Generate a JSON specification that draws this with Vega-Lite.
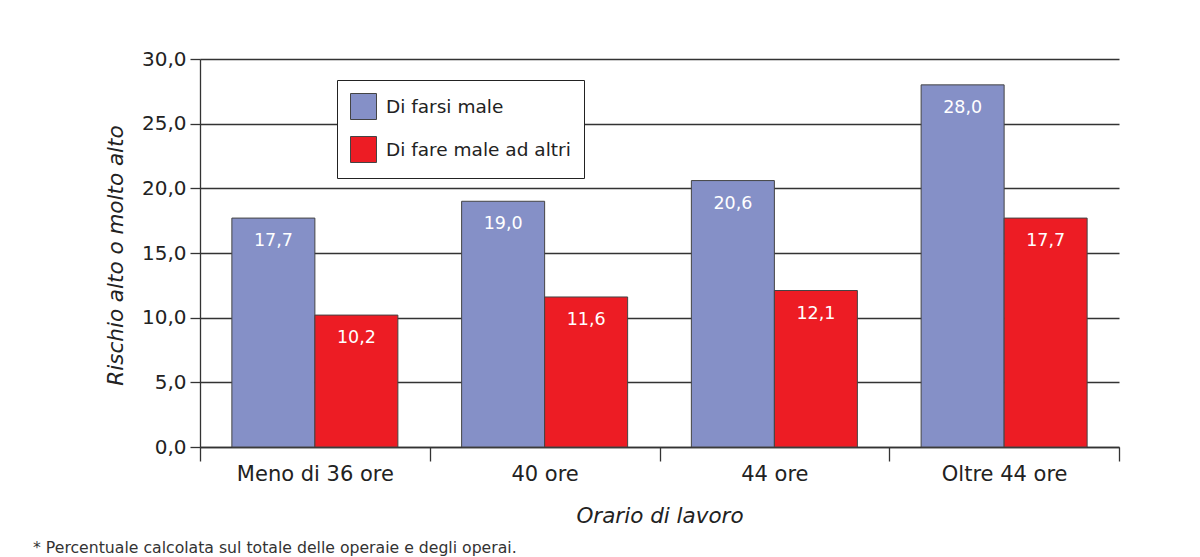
{
  "$schema": "https://vega.github.io/schema/vega-lite/v6.json",
  "width": 919,
  "height": 388,
  "autosize": {"type": "none"},
  "padding": {"left": 200, "top": 59, "right": 81, "bottom": 110},
  "background": "white",
  "title": {
    "text": "* Percentuale calcolata sul totale delle operaie e degli operai.",
    "orient": "bottom",
    "anchor": "start",
    "frame": "group",
    "dx": -167,
    "offset": 14,
    "font": "DejaVu Sans",
    "fontSize": 15.7,
    "fontWeight": "normal",
    "color": "#333333"
  },
  "data": {
    "values": [
      {"orario": "Meno di 36 ore", "serie": "Di farsi male", "valore": 17.7},
      {"orario": "Meno di 36 ore", "serie": "Di fare male ad altri", "valore": 10.2},
      {"orario": "40 ore", "serie": "Di farsi male", "valore": 19.0},
      {"orario": "40 ore", "serie": "Di fare male ad altri", "valore": 11.6},
      {"orario": "44 ore", "serie": "Di farsi male", "valore": 20.6},
      {"orario": "44 ore", "serie": "Di fare male ad altri", "valore": 12.1},
      {"orario": "Oltre 44 ore", "serie": "Di farsi male", "valore": 28.0},
      {"orario": "Oltre 44 ore", "serie": "Di fare male ad altri", "valore": 17.7}
    ]
  },
  "encoding": {
    "x": {
      "field": "orario",
      "type": "nominal",
      "sort": ["Meno di 36 ore", "40 ore", "44 ore", "Oltre 44 ore"],
      "scale": {"paddingInner": 0, "paddingOuter": 0},
      "axis": {
        "title": "Orario di lavoro",
        "titleFont": "DejaVu Sans",
        "titleFontSize": 21.5,
        "titleFontStyle": "italic",
        "titleFontWeight": "normal",
        "titleColor": "#222222",
        "titleBaseline": "alphabetic",
        "titleY": 75,
        "labelAngle": 0,
        "labelFont": "DejaVu Sans",
        "labelFontSize": 21,
        "labelColor": "#222222",
        "labelPadding": 2,
        "tickBand": "extent",
        "tickSize": 14,
        "tickColor": "#333333",
        "tickWidth": 1.3,
        "domainColor": "#333333",
        "domainWidth": 1.3
      }
    },
    "xOffset": {
      "field": "serie",
      "type": "nominal",
      "sort": ["Di farsi male", "Di fare male ad altri"],
      "scale": {"paddingOuter": 0.384, "paddingInner": 0}
    }
  },
  "layer": [
    {
      "mark": {"type": "bar", "stroke": "#444444", "strokeWidth": 1},
      "encoding": {
        "y": {
          "field": "valore",
          "type": "quantitative",
          "scale": {"domain": [0, 30], "nice": false},
          "axis": {
            "title": "Rischio alto o molto alto",
            "titleFont": "DejaVu Sans",
            "titleFontSize": 21.5,
            "titleFontStyle": "italic",
            "titleFontWeight": "normal",
            "titleColor": "#222222",
            "titleBaseline": "alphabetic",
            "titleX": -78,
            "titleY": 196,
            "values": [0, 5, 10, 15, 20, 25, 30],
            "format": ".1f",
            "labelFont": "DejaVu Sans",
            "labelFontSize": 20,
            "labelColor": "#222222",
            "labelPadding": 4,
            "tickSize": 10,
            "tickColor": "#333333",
            "tickWidth": 1.3,
            "domainColor": "#333333",
            "domainWidth": 1.3,
            "grid": true,
            "gridColor": "#333333",
            "gridWidth": 1.3
          }
        },
        "fill": {
          "field": "serie",
          "type": "nominal",
          "sort": ["Di farsi male", "Di fare male ad altri"],
          "scale": {"range": ["#8590C7", "#ED1C24"]},
          "legend": {
            "title": null,
            "orient": "none",
            "legendX": 137,
            "legendY": 21,
            "symbolType": "square",
            "symbolSize": 676,
            "symbolStrokeColor": "#444444",
            "symbolStrokeWidth": 1,
            "symbolOpacity": 1,
            "fillColor": "white",
            "strokeColor": "#222222",
            "padding": 13,
            "rowPadding": 12,
            "labelOffset": 9,
            "labelLimit": 400,
            "labelFont": "DejaVu Sans",
            "labelFontSize": 18.5,
            "labelColor": "#222222"
          }
        }
      }
    },
    {
      "mark": {
        "type": "text",
        "baseline": "alphabetic",
        "align": "center",
        "dy": 28,
        "color": "white",
        "font": "DejaVu Sans",
        "fontSize": 17.5
      },
      "encoding": {
        "y": {"field": "valore", "type": "quantitative"},
        "text": {"field": "valore", "type": "quantitative", "format": ".1f"}
      }
    }
  ],
  "config": {
    "locale": {
      "number": {"decimal": ",", "thousands": ".", "grouping": [3], "currency": ["€", ""]}
    },
    "view": {"stroke": null}
  }
}
